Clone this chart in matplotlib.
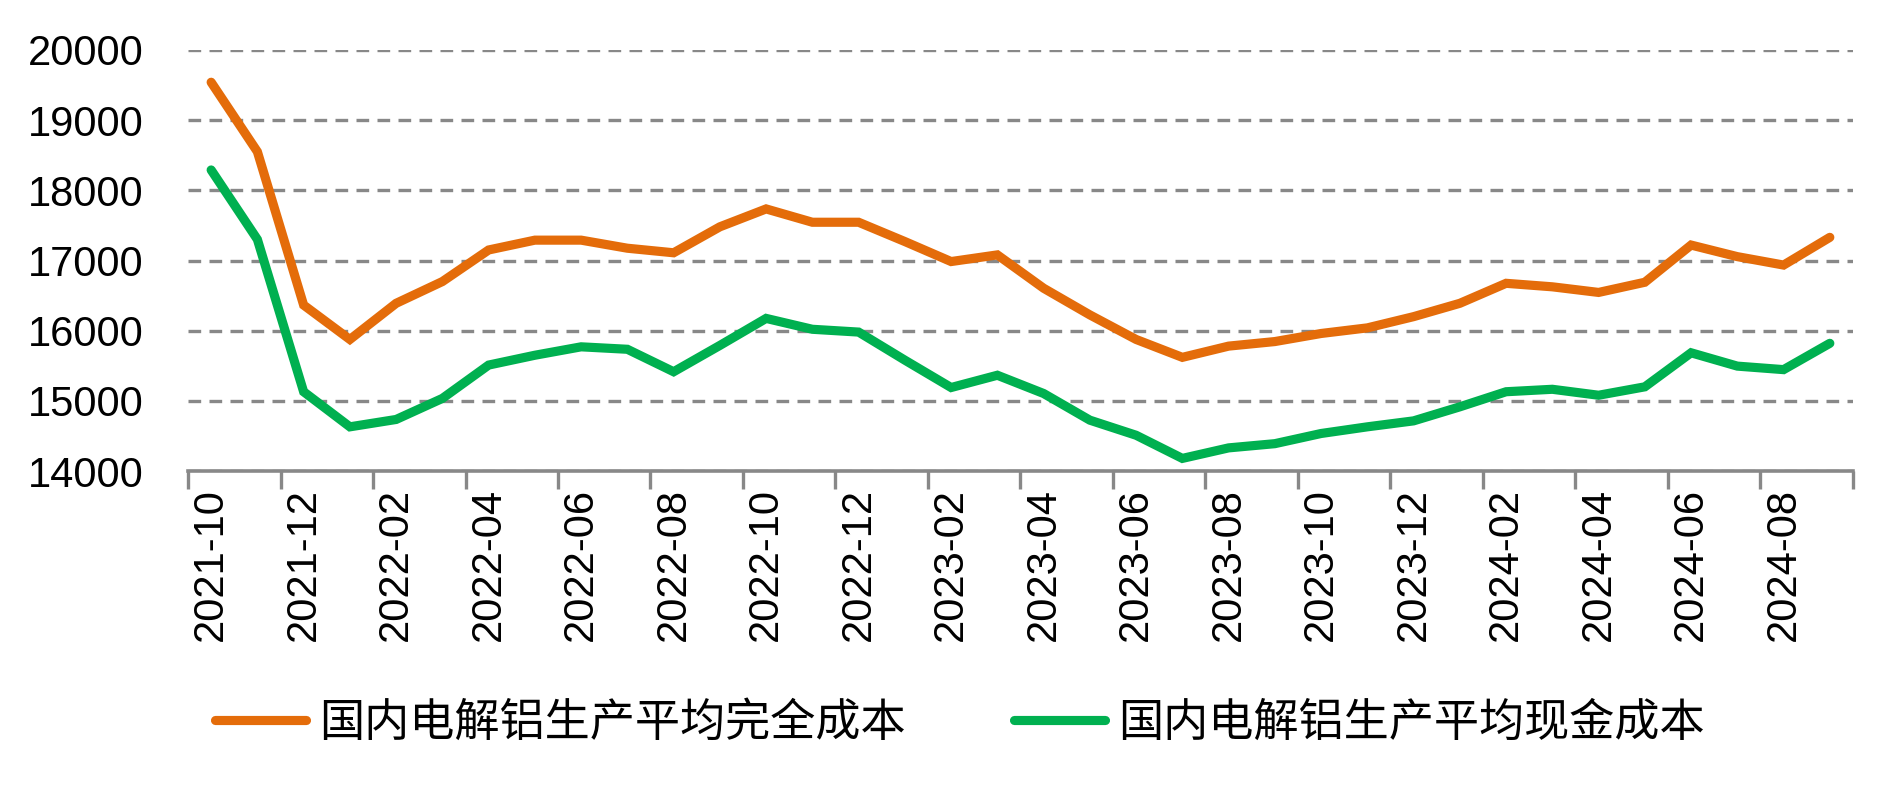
import numpy as np
import matplotlib
matplotlib.use('Agg')
import matplotlib.pyplot as plt

# monthly data, 2021-10 .. 2024-09
months = ['2021-10', '2021-11', '2021-12', '2022-01', '2022-02', '2022-03',
          '2022-04', '2022-05', '2022-06', '2022-07', '2022-08', '2022-09',
          '2022-10', '2022-11', '2022-12', '2023-01', '2023-02', '2023-03',
          '2023-04', '2023-05', '2023-06', '2023-07', '2023-08', '2023-09',
          '2023-10', '2023-11', '2023-12', '2024-01', '2024-02', '2024-03',
          '2024-04', '2024-05', '2024-06', '2024-07', '2024-08', '2024-09']

full_cost = [19540, 18550, 16365, 15875, 16390, 16700, 17150, 17290, 17290, 17175,
             17110, 17480, 17735, 17545, 17545, 17270, 16985, 17080, 16605, 16225,
             15875, 15620, 15780, 15845, 15960, 16040, 16200, 16390, 16675, 16625,
             16545, 16690, 17220, 17055, 16935, 17330]

cash_cost = [18290, 17300, 15130, 14630, 14735, 15035, 15510, 15650, 15770, 15735,
             15415, 15790, 16175, 16020, 15980, 15580, 15190, 15365, 15105, 14725,
             14510, 14180, 14330, 14390, 14535, 14630, 14715, 14915, 15130, 15165,
             15080, 15200, 15685, 15495, 15445, 15820]

labels = ['国内电解铝生产平均完全成本', '国内电解铝生产平均现金成本']
colors = ['#E46C0A', '#00B050']

plt.rcParams['font.family'] = ['Liberation Sans', 'DejaVu Sans']

fig = plt.figure(figsize=(19.03, 7.93), dpi=100)
ax = fig.add_axes([0.0988, 0.406, 0.9737 - 0.0988, 0.937 - 0.406])

x = np.arange(len(months))
ax.plot(x, full_cost, color=colors[0], lw=6.6, solid_capstyle='round',
        solid_joinstyle='miter', label=labels[0], zorder=3)
ax.plot(x, cash_cost, color=colors[1], lw=6.6, solid_capstyle='round',
        solid_joinstyle='miter', label=labels[1], zorder=3)

ax.set_xlim(-0.5, len(months) - 0.5)
ax.set_ylim(14000, 20000)
ax.set_yticks(np.arange(14000, 20001, 1000))
ax.tick_params(axis='y', length=0, pad=32, labelsize=30)
ax.grid(axis='y', color='#888888', lw=2.4, linestyle=(0, (3.8, 2.5)))
ax.set_axisbelow(True)

# tick marks on category boundaries, labels on every other category
ax.set_xticks(np.arange(-0.5, len(months), 2))
ax.set_xticklabels([])
ax.set_xticks(x[::2], minor=True)
ax.set_xticklabels(months[::2], minor=True, rotation=90)
ax.tick_params(axis='x', which='major', length=13, width=2.4, color='#888888')
ax.tick_params(axis='x', which='minor', length=0, pad=12, labelsize=30)

for s in ['left', 'right', 'top']:
    ax.spines[s].set_visible(False)
ax.spines['bottom'].set_color('#888888')
ax.spines['bottom'].set_linewidth(2.6)

fig.legend(loc='center', bbox_to_anchor=(0.5045, 0.088), ncol=2, frameon=False,
           prop={'family': ['Noto Sans CJK SC', 'DejaVu Sans'], 'size': 32.5},
           handlelength=2.0, handletextpad=0.3, columnspacing=2.4)

fig.savefig('out.png', dpi=100)
